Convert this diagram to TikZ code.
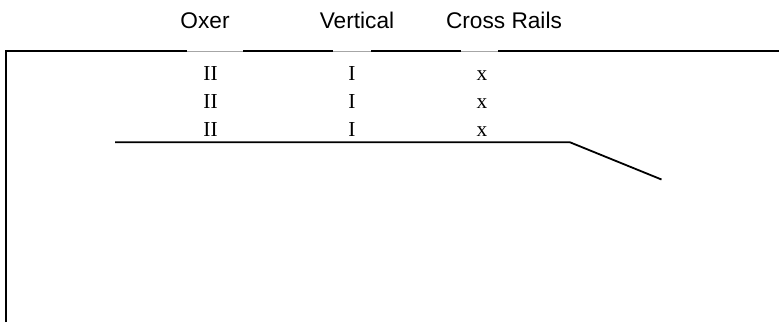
\documentclass[tikz,border=0pt]{standalone}
\usepackage{fontspec}
\setmainfont{Liberation Serif}
\newfontfamily\arialfont{Liberation Sans}
\begin{document}
\begin{tikzpicture}[x=0.75pt,y=-0.75pt,
  heading/.style={font=\arialfont\fontsize{17}{20}\selectfont, anchor=base, inner sep=0pt},
  fencemark/.style={font=\fontsize{16}{19}\selectfont, anchor=base, inner sep=0pt},
  rail/.style={line width=1.35pt, black},
  gapline/.style={line width=0.5pt, gray!70}]
\useasboundingbox (0,0) rectangle (779,322);
% headings
\node[heading] (oxer) at (205,28.3) {Oxer};
\node[heading] (vert) at (357,28.3) {Vertical};
\node[heading] (cross) at (504,28.3) {Cross Rails};
% fence marks
\foreach \i/\y in {1/80,2/108,3/136}{
  \node[fencemark] (ii\i) at (210.5,\y) {II};
  \node[fencemark] (i\i) at (352,\y) {I};
  \node[fencemark] (x\i) at (482,\y) {x};
}
% arena outline
\coordinate (bl) at (6,322);
\coordinate (tl) at (6,51);
\coordinate (g1a) at (187,51);
\coordinate (g1b) at (243,51);
\coordinate (g2a) at (333,51);
\coordinate (g2b) at (371,51);
\coordinate (g3a) at (461,51);
\coordinate (g3b) at (498,51);
\coordinate (tr) at (779,51);
\draw[rail] (bl) -- (tl) -- (g1a);
\draw[rail] (g1b) -- (g2a);
\draw[rail] (g2b) -- (g3a);
\draw[rail] (g3b) -- (tr);
\draw[gapline] (g1a) -- (g1b);
\draw[gapline] (g2a) -- (g2b);
\draw[gapline] (g3a) -- (g3b);
% lower line
\coordinate (la) at (115,142.3);
\coordinate (lb) at (570,142.3);
\coordinate (lc) at (661.5,179.5);
\draw[rail] (la) -- (lb) -- (lc);
\end{tikzpicture}
\end{document}
